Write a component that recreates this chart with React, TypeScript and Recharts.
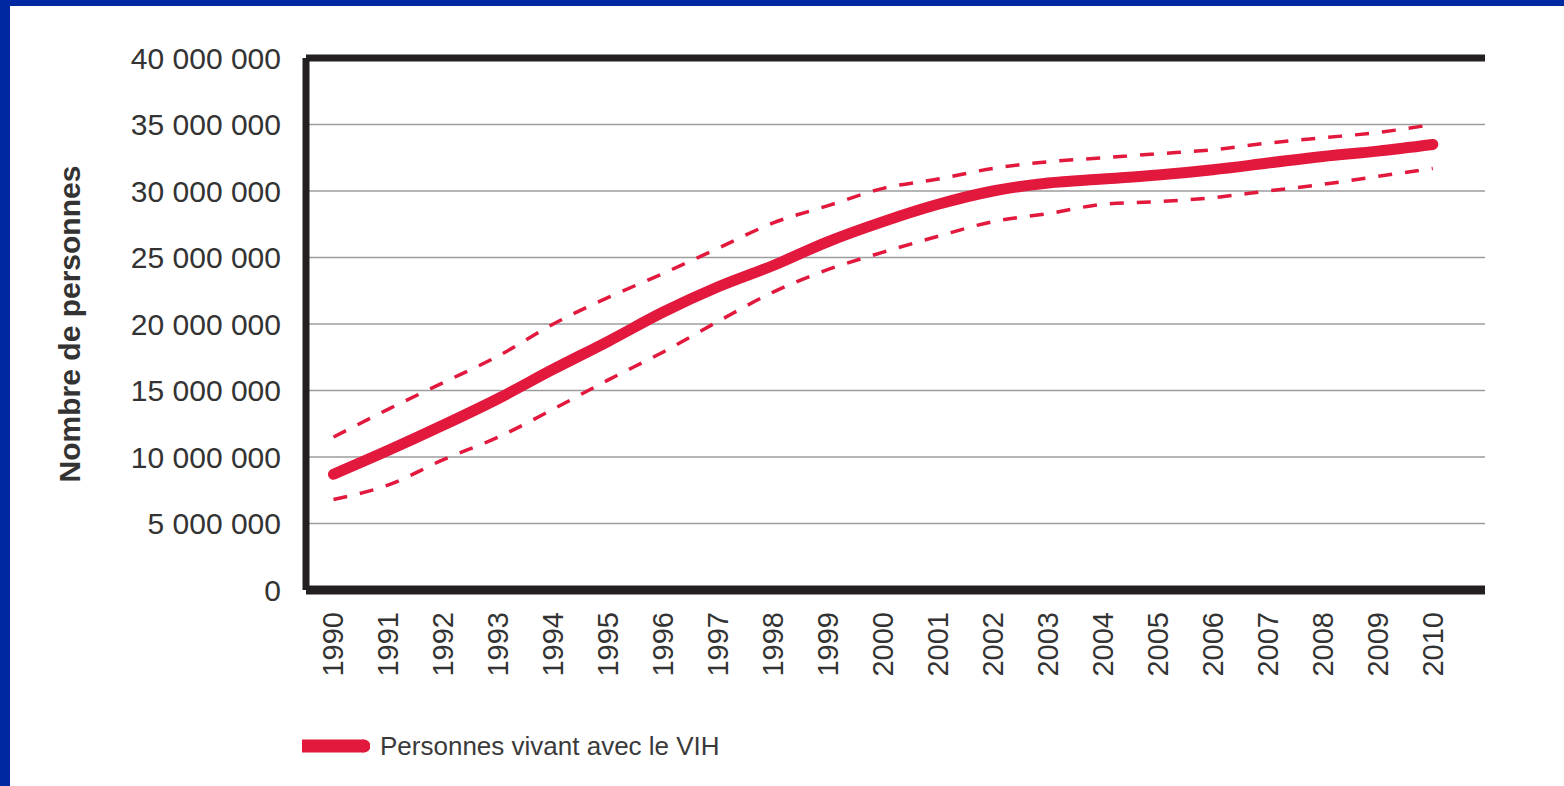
import { LineChart, Line, XAxis, YAxis, CartesianGrid, ReferenceLine, Legend } from 'recharts';

const years = [1990, 1991, 1992, 1993, 1994, 1995, 1996, 1997, 1998, 1999, 2000, 2001, 2002, 2003, 2004, 2005, 2006, 2007, 2008, 2009, 2010];

// central estimate
const estimate = [8700000, 10500000, 12400000, 14400000, 16600000, 18700000, 20900000, 22800000, 24400000, 26200000, 27700000, 29000000, 30000000, 30600000, 30900000, 31200000, 31600000, 32100000, 32600000, 33000000, 33500000];

// dashed bounds
const upperBound = [11500000, 13600000, 15600000, 17600000, 20000000, 22000000, 23800000, 25700000, 27600000, 28900000, 30200000, 30900000, 31700000, 32200000, 32500000, 32800000, 33100000, 33600000, 34000000, 34400000, 35000000];
const lowerBound = [6800000, 7900000, 9800000, 11500000, 13600000, 15800000, 17900000, 20200000, 22400000, 24100000, 25400000, 26600000, 27700000, 28300000, 29000000, 29200000, 29500000, 30000000, 30500000, 31100000, 31700000];

const yTicks = [0, 5000000, 10000000, 15000000, 20000000, 25000000, 30000000, 35000000, 40000000];

const data = years.map((year, i) => ({
    year,
    estimate: estimate[i],
    upper: upperBound[i],
    lower: lowerBound[i],
}));

const RED = '#e2183d';
const INK = '#231f20';
const TEXT = '#333333';
const FONT = '"Liberation Sans", Arial, sans-serif';

const formatNumber = (n: number) => n.toString().replace(/\B(?=(\d{3})+(?!\d))/g, ' ');

const XTick = (props: any) => {
    const { x, y, payload } = props;
    return (
        <text
            x={x}
            y={y}
            transform={`rotate(-90, ${x}, ${y})`}
            textAnchor="end"
            dominantBaseline="central"
            fontSize={29}
            fill={TEXT}
            fontFamily={FONT}
        >
            {payload.value}
        </text>
    );
};

const YLabel = (props: any) => {
    const { viewBox } = props;
    const cx = 80;
    const cy = viewBox.y + viewBox.height / 2;
    return (
        <text
            x={cx}
            y={cy}
            transform={`rotate(-90, ${cx}, ${cy})`}
            textAnchor="middle"
            fontSize={30}
            fontWeight="bold"
            fill={TEXT}
            fontFamily={FONT}
        >
            Nombre de personnes
        </text>
    );
};

const LegendContent = (props: any) => {
    // only the central estimate goes in the legend
    const items = (props.payload || []).filter((entry: any) => entry.dataKey === 'estimate');
    return (
        <div style={{ display: 'flex', flexDirection: 'column' }}>
            {items.map((entry: any) => (
                <div key={entry.value} style={{ display: 'flex', alignItems: 'center' }}>
                    <svg width={68} height={16} style={{ display: 'block' }}>
                        <line x1={0} y1={8} x2={62} y2={8} stroke={RED} strokeWidth={13} />
                        <circle cx={62} cy={8} r={6.5} fill={RED} />
                    </svg>
                    <span style={{ marginLeft: 10, fontSize: 26, color: '#3a3a3a', fontFamily: FONT, lineHeight: '30px' }}>
                        {entry.value}
                    </span>
                </div>
            ))}
        </div>
    );
};

export default function App() {
    return (
        <div style={{ position: 'absolute', left: 0, top: 0, width: 1564, height: 786, background: '#0028a0' }}>
            <div style={{ position: 'absolute', left: 10, top: 6, right: 0, bottom: 0, background: '#ffffff' }} />
            <div style={{ position: 'absolute', left: 0, top: 0 }}>
                <LineChart width={1564} height={786} data={data} margin={{ top: 58, right: 79, left: 0, bottom: 96 }}>
                    <CartesianGrid vertical={false} stroke="#9d9d9d" strokeWidth={1.5} />
                    <XAxis
                        dataKey="year"
                        type="number"
                        domain={[1989.5, 2010.95]}
                        ticks={years}
                        interval={0}
                        allowDataOverflow
                        tickLine={false}
                        tickSize={0}
                        tickMargin={22}
                        height={100}
                        tick={<XTick />}
                        axisLine={{ stroke: INK, strokeWidth: 9 }}
                    />
                    <YAxis
                        type="number"
                        domain={[0, 40000000]}
                        ticks={yTicks}
                        interval={0}
                        width={306}
                        tickLine={false}
                        tickSize={0}
                        tickMargin={25}
                        tickFormatter={formatNumber}
                        tick={{ fontSize: 30, fill: TEXT, fontFamily: FONT }}
                        axisLine={{ stroke: INK, strokeWidth: 7 }}
                        label={<YLabel />}
                    />
                    <ReferenceLine y={40000000} stroke={INK} strokeWidth={7} />
                    <Line
                        type="monotone"
                        dataKey="upper"
                        stroke={RED}
                        strokeWidth={3.5}
                        strokeDasharray="14 13"
                        dot={false}
                        activeDot={false}
                        legendType="none"
                        isAnimationActive={false}
                    />
                    <Line
                        type="monotone"
                        dataKey="lower"
                        stroke={RED}
                        strokeWidth={3.5}
                        strokeDasharray="14 13"
                        dot={false}
                        activeDot={false}
                        legendType="none"
                        isAnimationActive={false}
                    />
                    <Line
                        type="monotone"
                        dataKey="estimate"
                        name="Personnes vivant avec le VIH"
                        stroke={RED}
                        strokeWidth={11}
                        strokeLinecap="round"
                        dot={false}
                        activeDot={false}
                        isAnimationActive={false}
                    />
                    <Legend
                        layout="horizontal"
                        verticalAlign="middle"
                        align="center"
                        content={<LegendContent />}
                        wrapperStyle={{ left: 302, top: 731, width: 'auto', height: 'auto' }}
                    />
                </LineChart>
            </div>
        </div>
    );
}
